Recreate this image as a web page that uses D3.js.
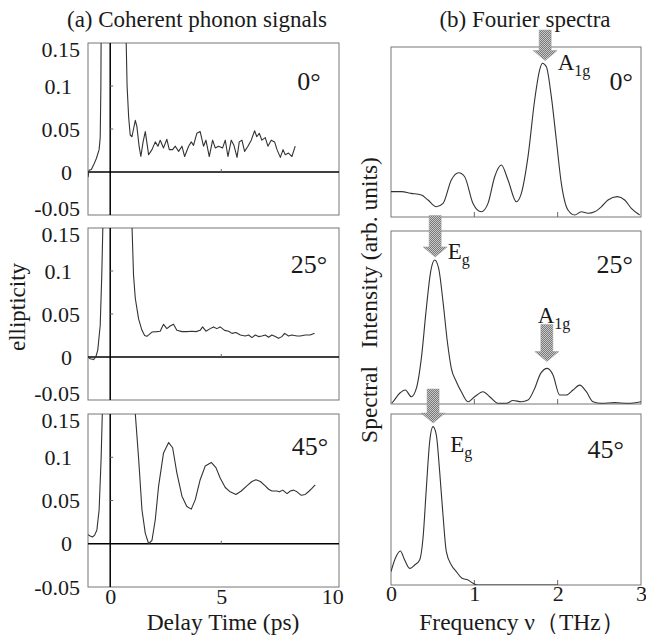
<!DOCTYPE html>
<html lang="en">
<head>
<meta charset="utf-8">
<title>Coherent phonon signals and Fourier spectra</title>
<script src="https://cdn.jsdelivr.net/npm/d3@7"></script>
<style>
  body { margin: 0; background: #fff; }
  text { font-family: "Liberation Serif", "Times New Roman", serif; fill: #1a1a1a; }
  .frame { fill: none; stroke: #777; stroke-width: 1; }
  .curve { fill: none; stroke: #333; stroke-width: 1.1; stroke-linejoin: round; }
  .zero { stroke: #000; stroke-width: 1.5; }
  .tick-mark { stroke: #666; stroke-width: 1; }
</style>
</head>
<body>
<script>
// ---- data ----
var angles = ["0°", "25°", "45°"];
var timeTicks = [0, 5, 10];
var ellipTicks = [-0.05, 0, 0.05, 0.1, 0.15];
var freqTicks = [0, 1, 2, 3];

// ellipticity vs delay time (ps); the pump spike runs off the top of each panel
var signal0 = [[-1.0, -0.006], [-0.95, 0.002], [-0.85, 0.003], [-0.75, 0.008], [-0.62, 0.016],
  [-0.5, 0.026], [-0.45, 0.04], [-0.42, 0.1], [-0.4, 0.2], [0.7, 0.2], [0.72, 0.15], [0.76, 0.1],
  [0.83, 0.064], [0.9, 0.043], [0.98, 0.041], [1.05, 0.05], [1.13, 0.06], [1.2, 0.053], [1.3, 0.03],
  [1.38, 0.018], [1.48, 0.035], [1.58, 0.047], [1.73, 0.02], [1.88, 0.026], [2.03, 0.035], [2.15, 0.03],
  [2.25, 0.037], [2.4, 0.028], [2.55, 0.038], [2.66, 0.026], [2.81, 0.026], [2.93, 0.03], [3.08, 0.024],
  [3.23, 0.03], [3.35, 0.018], [3.53, 0.03], [3.65, 0.035], [3.75, 0.031], [3.9, 0.045], [4.05, 0.047],
  [4.2, 0.03], [4.31, 0.037], [4.46, 0.018], [4.61, 0.037], [4.73, 0.028], [4.88, 0.03], [5.06, 0.028],
  [5.18, 0.037], [5.3, 0.018], [5.45, 0.037], [5.57, 0.031], [5.71, 0.017], [5.81, 0.035], [5.93, 0.037],
  [6.05, 0.024], [6.2, 0.03], [6.35, 0.037], [6.5, 0.048], [6.6, 0.041], [6.71, 0.045], [6.83, 0.037],
  [6.98, 0.04], [7.1, 0.03], [7.25, 0.037], [7.4, 0.035], [7.51, 0.026], [7.66, 0.017], [7.78, 0.026],
  [7.88, 0.02], [8.03, 0.022], [8.18, 0.018], [8.33, 0.03]];

var signal25 = [[-1.0, 0.0], [-0.9, -0.002], [-0.75, -0.003], [-0.65, 0.0], [-0.56, 0.008],
  [-0.45, 0.037], [-0.38, 0.095], [-0.33, 0.153], [-0.3, 0.2], [0.95, 0.2], [0.98, 0.153],
  [1.05, 0.095], [1.13, 0.068], [1.28, 0.044], [1.43, 0.031], [1.55, 0.025], [1.65, 0.024],
  [1.88, 0.029], [2.1, 0.0295], [2.25, 0.030], [2.4, 0.038], [2.55, 0.033], [2.7, 0.036],
  [2.85, 0.038], [3.0, 0.031], [3.23, 0.0295], [3.45, 0.0295], [3.68, 0.030], [3.86, 0.0295],
  [4.05, 0.031], [4.16, 0.035], [4.31, 0.030], [4.5, 0.033], [4.65, 0.035], [4.8, 0.033],
  [4.95, 0.035], [5.15, 0.031], [5.33, 0.030], [5.48, 0.0275], [5.66, 0.0285], [5.86, 0.0256],
  [6.08, 0.0244], [6.23, 0.0256], [6.38, 0.0225], [6.53, 0.0256], [6.68, 0.0237], [6.83, 0.0244],
  [6.98, 0.0256], [7.13, 0.0229], [7.28, 0.0256], [7.43, 0.0237], [7.58, 0.0217], [7.73, 0.0237],
  [7.85, 0.0275], [8.03, 0.0244], [8.18, 0.0256], [8.41, 0.0244], [8.56, 0.0244], [8.78, 0.0256],
  [9.0, 0.0256], [9.2, 0.0275]];

var signal45 = [[-1.0, 0.0105], [-0.9, 0.009], [-0.8, 0.0078], [-0.7, 0.01], [-0.6, 0.016],
  [-0.5, 0.039], [-0.41, 0.098], [-0.35, 0.156], [-0.3, 0.2], [1.08, 0.2], [1.13, 0.15],
  [1.28, 0.098], [1.43, 0.039], [1.58, 0.012], [1.73, 0.0], [1.88, 0.004], [2.03, 0.028],
  [2.18, 0.067], [2.4, 0.105], [2.63, 0.117], [2.81, 0.111], [3.0, 0.082], [3.23, 0.055],
  [3.45, 0.043], [3.65, 0.04], [3.83, 0.051], [4.05, 0.074], [4.28, 0.09], [4.55, 0.094],
  [4.76, 0.088], [4.95, 0.076], [5.18, 0.065], [5.4, 0.06], [5.66, 0.057], [5.9, 0.061],
  [6.15, 0.067], [6.38, 0.072], [6.56, 0.074], [6.76, 0.072], [6.98, 0.067], [7.13, 0.063],
  [7.28, 0.061], [7.5, 0.061], [7.62, 0.06], [7.77, 0.062], [7.96, 0.058], [8.11, 0.061],
  [8.26, 0.062], [8.41, 0.06], [8.6, 0.056], [8.78, 0.057], [8.96, 0.061], [9.08, 0.064], [9.23, 0.068]];

// spectral intensity (arb. units, panel height = 1) vs frequency (THz)
var spectrum0 = [[0.0, 0.149], [0.124, 0.149], [0.244, 0.139], [0.364, 0.129], [0.444, 0.1],
  [0.544, 0.06], [0.624, 0.08], [0.724, 0.218], [0.812, 0.26], [0.884, 0.237], [0.984, 0.08],
  [1.084, 0.031], [1.164, 0.08], [1.244, 0.237], [1.324, 0.306], [1.404, 0.218], [1.504, 0.09],
  [1.564, 0.139], [1.644, 0.355], [1.724, 0.688], [1.784, 0.865], [1.816, 0.904], [1.864, 0.884],
  [1.924, 0.708], [1.984, 0.453], [2.044, 0.198], [2.124, 0.041], [2.204, 0.012], [2.284, 0.031],
  [2.364, 0.022], [2.444, 0.031], [2.524, 0.06], [2.604, 0.1], [2.716, 0.12], [2.804, 0.1],
  [2.884, 0.051], [2.984, 0.012]];

var spectrum25 = [[0.01, 0.005], [0.024, 0.013], [0.104, 0.062], [0.172, 0.081], [0.244, 0.042],
  [0.304, 0.09], [0.364, 0.264], [0.424, 0.553], [0.476, 0.765], [0.524, 0.832], [0.572, 0.784],
  [0.624, 0.592], [0.676, 0.361], [0.724, 0.206], [0.784, 0.129], [0.844, 0.071], [0.924, 0.013],
  [1.004, 0.042], [1.104, 0.071], [1.184, 0.042], [1.284, 0.004], [1.384, 0.004], [1.464, 0.02],
  [1.564, 0.013], [1.644, 0.023], [1.724, 0.09], [1.796, 0.177], [1.876, 0.206], [1.944, 0.168],
  [2.024, 0.052], [2.104, 0.052], [2.184, 0.081], [2.264, 0.109], [2.344, 0.071], [2.424, 0.013],
  [2.524, 0.004], [2.684, 0.008], [2.844, 0.004], [3.0, 0.013]];

var spectrum45 = [[0.0, 0.078], [0.052, 0.156], [0.112, 0.199], [0.164, 0.146], [0.224, 0.097],
  [0.284, 0.117], [0.344, 0.146], [0.384, 0.273], [0.424, 0.565], [0.464, 0.838], [0.504, 0.926],
  [0.544, 0.877], [0.584, 0.663], [0.624, 0.409], [0.664, 0.195], [0.724, 0.117], [0.784, 0.078],
  [0.852, 0.039], [0.924, 0.029], [0.984, 0.01], [1.044, 0.0], [1.5, 0.0], [2.0, 0.0]];

var signals = [signal0, signal25, signal45];
var spectra = [spectrum0, spectrum25, spectrum45];

// phonon mode markers: arrow from "from" down to "to" (intensity units) at frequency nu
var modeMarks = [
  { panel: 0, name: "A", sub: "1g", nu: 1.85, from: 1.1, to: 0.92, labelNu: 2.0, labelI: 0.865 },
  { panel: 1, name: "E", sub: "g", nu: 0.53, from: 1.09, to: 0.85, labelNu: 0.68, labelI: 0.84 },
  { panel: 1, name: "A", sub: "1g", nu: 1.87, from: 0.46, to: 0.245, labelNu: 1.76, labelI: 0.47 },
  { panel: 2, name: "E", sub: "g", nu: 0.505, from: 1.146, to: 0.947, labelNu: 0.71, labelI: 0.78 }
];

// ---- layout ----
var w = 646, h = 635;
var rowsLeft = [[43, 215], [228, 400], [414, 587]];
var rowsRight = [[47, 217], [231, 404], [414, 585]];
var angleLeft = [[309, 90], [309, 273], [310, 455]];
var angleRight = [[633, 90], [633, 273], [624, 458]];
var serif = "'Liberation Serif', 'Times New Roman', serif";

var svg = d3.select("body").append("svg")
  .attr("width", w)
  .attr("height", h);

var defs = svg.append("defs");
var pat = defs.append("pattern")
  .attr("id", "hatch")
  .attr("patternUnits", "userSpaceOnUse")
  .attr("width", 2).attr("height", 2);
pat.append("rect").attr("width", 2).attr("height", 2).attr("fill", "#7a7a7a");
pat.append("rect").attr("width", 1).attr("height", 1).attr("fill", "#c8c8c8");
pat.append("rect").attr("x", 1).attr("y", 1).attr("width", 1).attr("height", 1).attr("fill", "#c8c8c8");

var xTime = d3.scaleLinear().domain([-1, 10.3]).range([88, 339]);
var xFreq = d3.scaleLinear().domain([0, 3]).range([391, 641]);

// titles
svg.append("text").attr("x", 197).attr("y", 27).attr("text-anchor", "middle")
  .style("font-size", "23px").text("(a) Coherent phonon signals");
svg.append("text").attr("x", 525).attr("y", 27).attr("text-anchor", "middle")
  .style("font-size", "23px").text("(b) Fourier spectra");

// ---- left column: time-domain signals ----
signals.forEach(function (data, i) {
  var y = d3.scaleLinear().domain([-0.05, 0.15]).range([rowsLeft[i][1], rowsLeft[i][0]]);
  var g = svg.append("g");

  defs.append("clipPath").attr("id", "clipL" + i)
    .append("rect")
    .attr("x", xTime.range()[0]).attr("y", y.range()[1])
    .attr("width", xTime.range()[1] - xTime.range()[0])
    .attr("height", y.range()[0] - y.range()[1]);

  g.append("rect").attr("class", "frame")
    .attr("x", xTime.range()[0]).attr("y", y.range()[1])
    .attr("width", xTime.range()[1] - xTime.range()[0])
    .attr("height", y.range()[0] - y.range()[1]);

  // zero lines
  g.append("line").attr("class", "zero")
    .attr("x1", xTime(0)).attr("x2", xTime(0))
    .attr("y1", y.range()[1]).attr("y2", y.range()[0]);
  g.append("line").attr("class", "zero")
    .attr("x1", xTime.range()[0]).attr("x2", xTime.range()[1])
    .attr("y1", y(0)).attr("y2", y(0));

  // little ticks on the zero lines
  g.selectAll(".ytk").data([0.05, 0.1]).enter().append("line")
    .attr("class", "tick-mark")
    .attr("x1", xTime(0)).attr("x2", xTime(0) + 3)
    .attr("y1", function (d) { return y(d); }).attr("y2", function (d) { return y(d); });
  g.append("line").attr("class", "tick-mark")
    .attr("x1", xTime(5)).attr("x2", xTime(5))
    .attr("y1", y(0)).attr("y2", y(0) - 3);

  g.append("path")
    .datum(data)
    .attr("class", "curve")
    .attr("clip-path", "url(#clipL" + i + ")")
    .attr("d", d3.line()
      .x(function (d) { return xTime(d[0]); })
      .y(function (d) { return y(d[1]); }));

  var yAxis = d3.axisLeft(y).tickValues(ellipTicks).tickSize(0).tickPadding(8)
    .tickFormat(function (d) { return String(d); });
  var ya = g.append("g").attr("transform", "translate(" + xTime.range()[0] + ",0)").call(yAxis);
  ya.select(".domain").remove();
  ya.selectAll("text")
    .style("font-size", "22px")
    .style("font-family", serif)
    .attr("fill", "#1a1a1a")
    .attr("dx", function (d) { return (d === 0 || d === 0.1) ? -8 : 0; })
    .attr("transform", function (d) {
      if (d === 0.15) return "translate(0,6)";
      if (d === -0.05 && i < 2) return "translate(0,-7)";
      return null;
    });

  g.append("text")
    .attr("x", angleLeft[i][0]).attr("y", angleLeft[i][1])
    .attr("text-anchor", "middle")
    .style("font-size", "26px")
    .text(angles[i]);

  if (i === 2) {
    var xAxis = d3.axisBottom(xTime).tickValues(timeTicks).tickSize(0).tickPadding(1)
      .tickFormat(d3.format("d"));
    var xa = g.append("g").attr("transform", "translate(0," + y.range()[0] + ")").call(xAxis);
    xa.select(".domain").remove();
    xa.selectAll("text")
      .style("font-size", "22px")
      .style("font-family", serif)
      .attr("fill", "#1a1a1a");
  }
});

// ---- right column: Fourier spectra ----
spectra.forEach(function (data, i) {
  var y = d3.scaleLinear().domain([0, 1]).range([rowsRight[i][1], rowsRight[i][0]]);
  var g = svg.append("g");

  defs.append("clipPath").attr("id", "clipR" + i)
    .append("rect")
    .attr("x", xFreq.range()[0]).attr("y", y.range()[1])
    .attr("width", xFreq.range()[1] - xFreq.range()[0])
    .attr("height", y.range()[0] - y.range()[1]);

  g.append("rect").attr("class", "frame")
    .attr("x", xFreq.range()[0]).attr("y", y.range()[1])
    .attr("width", xFreq.range()[1] - xFreq.range()[0])
    .attr("height", y.range()[0] - y.range()[1]);

  g.selectAll(".xtk").data([1, 2]).enter().append("line")
    .attr("class", "tick-mark")
    .attr("x1", function (d) { return xFreq(d); }).attr("x2", function (d) { return xFreq(d); })
    .attr("y1", y(0)).attr("y2", y(0) - 5);

  g.append("path")
    .datum(data)
    .attr("class", "curve")
    .attr("clip-path", "url(#clipR" + i + ")")
    .attr("d", d3.line()
      .curve(d3.curveMonotoneX)
      .x(function (d) { return xFreq(d[0]); })
      .y(function (d) { return y(d[1]); }));

  g.append("text")
    .attr("x", angleRight[i][0]).attr("y", angleRight[i][1])
    .attr("text-anchor", "end")
    .style("font-size", "26px")
    .text(angles[i]);

  modeMarks.filter(function (m) { return m.panel === i; }).forEach(function (m) {
    var cx = xFreq(m.nu), y0 = y(m.from), y1 = y(m.to);
    var shaft = 6, head = 12, headH = 10;
    g.append("path")
      .attr("fill", "url(#hatch)")
      .attr("stroke", "#999")
      .attr("stroke-width", 0.5)
      .attr("d", "M" + (cx - shaft) + "," + y0 + "L" + (cx + shaft) + "," + y0 +
        "L" + (cx + shaft) + "," + (y1 - headH) + "L" + (cx + head) + "," + (y1 - headH) +
        "L" + cx + "," + y1 + "L" + (cx - head) + "," + (y1 - headH) +
        "L" + (cx - shaft) + "," + (y1 - headH) + "Z");
    var t = g.append("text")
      .attr("x", xFreq(m.labelNu)).attr("y", y(m.labelI))
      .style("font-size", "23px");
    t.append("tspan").text(m.name);
    t.append("tspan").attr("dy", 6).style("font-size", "16px").text(m.sub);
  });

  if (i === 2) {
    var xAxis = d3.axisBottom(xFreq).tickValues(freqTicks).tickSize(0).tickPadding(0)
      .tickFormat(d3.format("d"));
    var xa = g.append("g").attr("transform", "translate(0," + y.range()[0] + ")").call(xAxis);
    xa.select(".domain").remove();
    xa.selectAll("text")
      .style("font-size", "22px")
      .style("font-family", serif)
      .attr("fill", "#1a1a1a");
  }
});

// axis titles
svg.append("text")
  .attr("transform", "translate(25,307) rotate(-90)")
  .attr("text-anchor", "middle")
  .style("font-size", "23px")
  .text("ellipticity");

svg.append("text")
  .attr("transform", "translate(377,300) rotate(-90)")
  .attr("text-anchor", "middle")
  .style("font-size", "23.5px")
  .text("Spectral\u00a0\u00a0\u00a0Intensity (arb. units)");

svg.append("text").attr("x", 223).attr("y", 630).attr("text-anchor", "middle")
  .style("font-size", "23.5px").text("Delay Time (ps)");

svg.append("text").attr("x", 522).attr("y", 630).attr("text-anchor", "middle")
  .style("font-size", "23.5px").text("Frequency ν\uff08THz\uff09");
</script>
</body>
</html>
